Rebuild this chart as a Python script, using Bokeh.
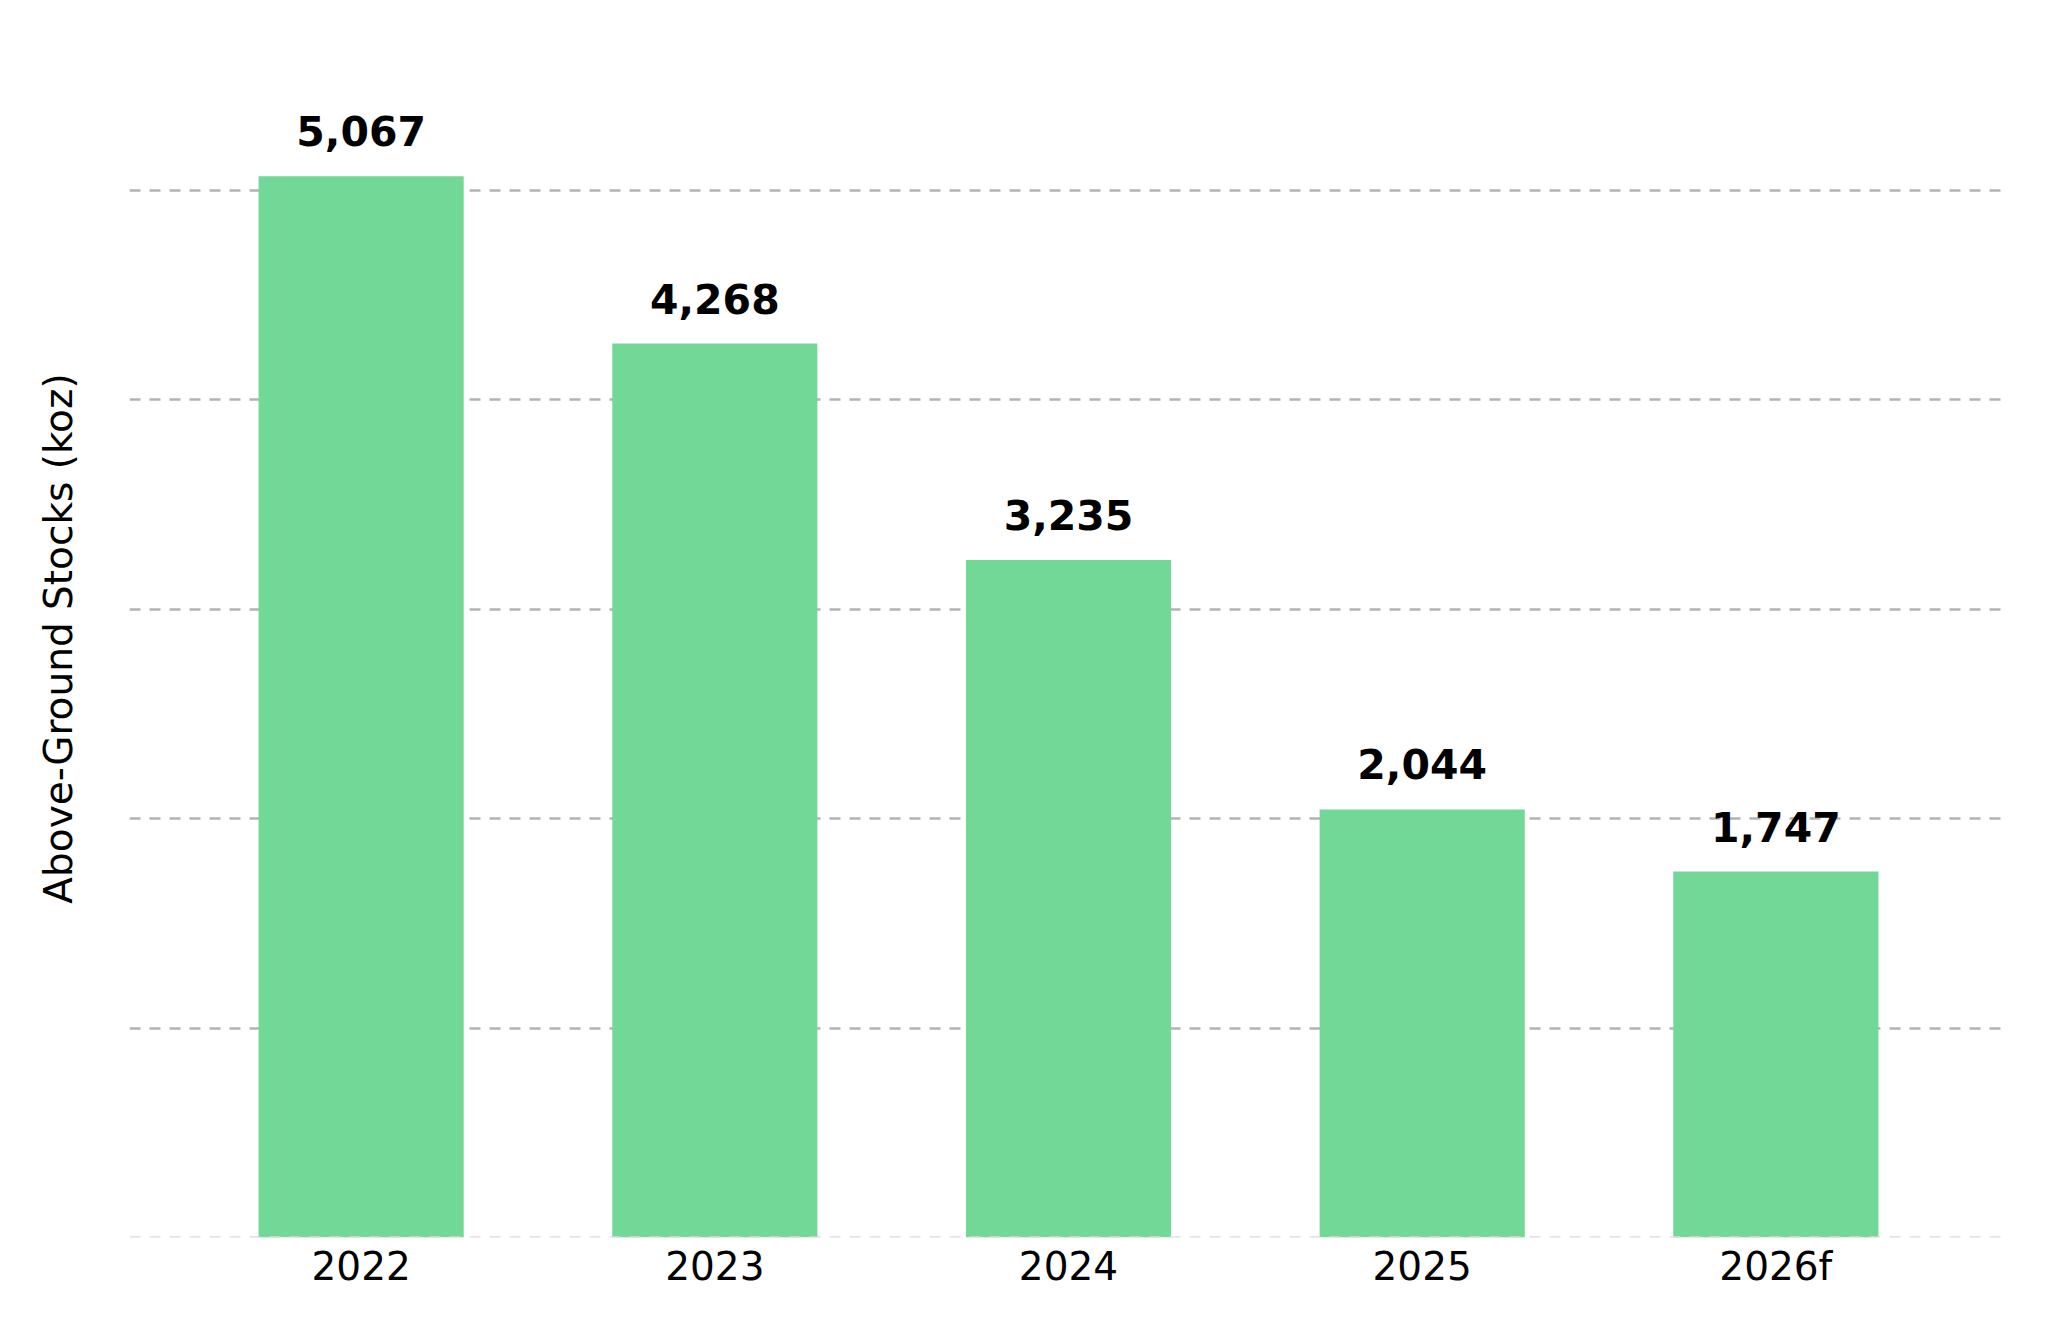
from bokeh.plotting import figure
from bokeh.models import FactorRange, Range1d, FixedTicker, Span, ColumnDataSource
from bokeh.core.properties import value
from bokeh.embed import file_html
from bokeh.resources import INLINE

years = ["2022", "2023", "2024", "2025", "2026f"]
stocks = [5067, 4268, 3235, 2044, 1747]
bar_labels = [f"{v:,}" for v in stocks]
y_ticks = [0, 1000, 2000, 3000, 4000, 5000]
y_label = "Above-Ground Stocks (koz)"

FONT = "DejaVu Sans"

src = ColumnDataSource(dict(x=years, top=stocks, label=bar_labels))

p = figure(
    width=2032, height=1315,
    x_range=FactorRange(factors=years, range_padding=0.062, range_padding_units="percent"),
    y_range=Range1d(0, 5720),
    output_backend="svg", toolbar_location=None,
    min_border_left=129, min_border_right=25, min_border_top=39, min_border_bottom=78,
)
p.outline_line_color = None
p.background_fill_color = "white"
p.border_fill_color = "white"

p.vbar(x="x", top="top", width=0.58, bottom=0, source=src,
       fill_color="#71d897", line_color=None)

p.text(x="x", y="top", text="label", source=src,
       text_align="center", text_baseline="alphabetic", y_offset=-45,
       text_font=value(FONT), text_font_style="bold", text_font_size="41px",
       text_color="black")

# grid
p.xgrid.grid_line_color = None
p.yaxis.ticker = FixedTicker(ticks=[])
p.ygrid.ticker = FixedTicker(ticks=y_ticks[1:])
p.ygrid.grid_line_color = "#b3b3b3"
p.ygrid.grid_line_width = 2.5
p.ygrid.grid_line_dash = "11 9"

base = Span(location=y_ticks[0], dimension="width", line_color="#dadada",
            line_width=2.5, line_dash="11 9")
p.add_layout(base)

# x axis
p.xaxis.axis_line_color = None
p.xaxis.major_tick_line_color = None
p.xaxis.minor_tick_line_color = None
p.xaxis.major_label_text_font = FONT
p.xaxis.major_label_text_font_size = "39px"
p.xaxis.major_label_text_color = "black"
p.xaxis.major_label_standoff = 0

# y axis
p.yaxis.axis_line_color = None
p.yaxis.major_tick_line_color = None
p.yaxis.minor_tick_line_color = None
p.yaxis.major_tick_out = 0
p.yaxis.major_label_standoff = 0
p.yaxis.axis_label = y_label
p.yaxis.axis_label_text_font = FONT
p.yaxis.axis_label_text_font_size = "39px"
p.yaxis.axis_label_text_font_style = "normal"
p.yaxis.axis_label_text_color = "black"
p.yaxis.axis_label_standoff = 49

open("out.html", "w").write(file_html(p, INLINE))
